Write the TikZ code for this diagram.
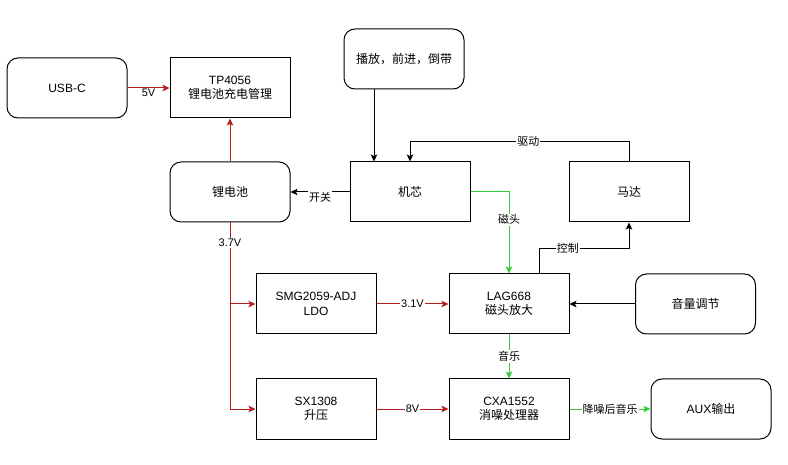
\documentclass[tikz,border=0pt]{standalone}
\usepackage{fontspec}
\setmainfont{Liberation Sans}
\newfontfamily\cjk{Noto Sans CJK SC}
\usetikzlibrary{arrows.meta,calc}
\definecolor{rd}{RGB}{180,30,30}
\definecolor{gn}{RGB}{50,205,50}
\begin{document}
\begin{tikzpicture}[x=1pt,y=-1pt,
  box/.style={draw, line width=1pt, minimum width=120pt, minimum height=60pt, align=center, font=\fontsize{12}{14.5}\selectfont, inner sep=0pt},
  rbox/.style={box, rounded corners=11pt},
  lbl/.style={fill=white, inner sep=1pt, font=\fontsize{11}{13}\selectfont},
  arr/.style={line width=1pt, -{Stealth[length=7pt,width=6.5pt,inset=1.5pt]}},
  redarr/.style={arr, draw=rd},
  grnarr/.style={arr, draw=gn}]
\useasboundingbox (0,0) rectangle (788,465);
% nodes
\node[rbox] (usb) at (67,88) {USB-C};
\node[box] (tp) at (230,88) {TP4056\\{\cjk 锂电池充电管理}};
\node[rbox] (bat) at (230,192) {{\cjk 锂电池}};
\node[rbox] (play) at (404,59) {{\cjk 播放，前进，倒带}};
\node[box] (core) at (410,192) {{\cjk 机芯}};
\node[box] (motor) at (629,192) {{\cjk 马达}};
\node[box] (smg) at (316,304) {SMG2059-ADJ\\LDO};
\node[box] (lag) at (509,304) {LAG668\\{\cjk 磁头放大}};
\node[rbox] (vol) at (695.5,304) {{\cjk 音量调节}};
\node[box] (sx) at (316,409) {SX1308\\{\cjk 升压}};
\node[box] (cxa) at (509,409) {CXA1552\\{\cjk 消噪处理器}};
\node[rbox] (aux) at (711,409) {AUX{\cjk 输出}};
% connectors
\draw[redarr] (usb) -- node[lbl,yshift=-5pt]{5V} (tp);
\draw[redarr] (bat) -- (tp);
\draw[arr] ($(play.south)+(-30,0)$) -- ($(core.north)+(-36,0)$);
\draw[arr] (motor.north) -- ++(0,-20) -| node[lbl,pos=0.23]{{\cjk 驱动}} (core.north);
\draw[arr] (core) -- node[lbl,yshift=-5pt]{{\cjk 开关}} (bat);
\draw[grnarr] (core.east) -| node[lbl,pos=0.67]{{\cjk 磁头}} (lag.north);
\draw[arr] ($(lag.north)+(30,0)$) -- ++(0,-25) -| node[lbl,pos=0.16]{{\cjk 控制}} (motor.south);
\draw[redarr] (bat.south) |- (smg.west);
\draw[redarr] (bat.south) |- (sx.west);
\node[lbl] (v37) at (230,243) {3.7V};
\draw[redarr] (smg) -- node[lbl]{3.1V} (lag);
\draw[redarr] (sx) -- node[lbl]{8V} (cxa);
\draw[grnarr] (lag) -- node[lbl]{{\cjk 音乐}} (cxa);
\draw[arr] (vol) -- (lag);
\draw[grnarr] (cxa) -- node[lbl]{{\cjk 降噪后音乐}} (aux);
\end{tikzpicture}
\end{document}
